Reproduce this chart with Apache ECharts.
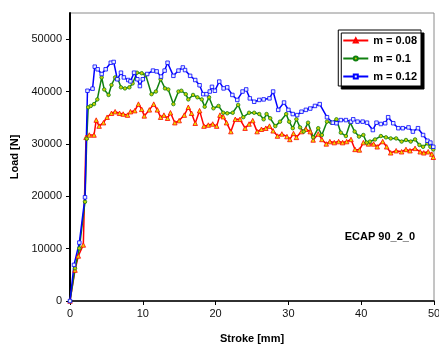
<!DOCTYPE html>
<html>
<head>
<meta charset="utf-8">
<script src="https://cdn.jsdelivr.net/npm/echarts@6/dist/echarts.min.js"></script>
<style>
html,body{margin:0;padding:0;background:#fff;}
#c{width:439px;height:345px;}
</style>
</head>
<body>
<div id="c"></div>
<script>
var seriesNames = ['m = 0.08', 'm = 0.1', 'm = 0.12'];
var xTicks = [0, 10, 20, 30, 40, 50];
var yTicks = [0, 10000, 20000, 30000, 40000, 50000];

var strokeRed = [0,0.69,1.14,1.83,2.2,2.65,3.3,3.6,4.0,4.6,5.1,5.7,6.2,6.8,7.3,7.9,8.3,8.9,9.4,9.85,10.2,10.9,11.5,12.0,12.45,12.9,13.4,13.8,14.4,15.0,15.7,16.25,16.7,17.2,17.8,18.4,19.0,19.6,20.15,20.6,21.05,21.5,22.1,22.7,23.35,24.05,24.6,25.1,25.7,26.3,26.9,27.4,27.9,28.5,29.1,29.8,30.2,30.7,31.1,31.8,32.4,33.0,33.4,34.1,34.6,35.2,35.7,36.3,36.9,37.45,38.0,38.6,39.15,39.75,40.3,41.0,41.7,42.2,42.95,43.5,44.05,44.8,45.55,46.15,46.7,47.4,48.1,48.6,49.2,49.7,49.9];
var loadRed = [0,5900,8600,10700,31250,31700,31700,34550,33400,34050,35100,35850,36150,35850,35700,35500,36150,36350,37600,36600,35350,36500,37600,36500,35100,35500,34900,35950,34050,34450,35500,37000,35850,33950,36350,33400,33600,33800,33400,35500,35200,34050,32350,34700,34700,33000,33800,34450,32350,32800,33000,33400,32500,31500,31900,31400,30850,32000,31250,32350,32800,32350,30750,31900,30850,30000,30450,30250,30450,30250,30450,30850,28950,28850,30250,30000,30000,29450,30450,29450,28300,28700,28500,28950,28700,29150,28500,28300,28500,28050,27450];

var strokeGreen = [0,0.69,1.28,2.06,2.3,2.5,2.85,3.3,3.75,4.35,4.7,5.3,5.7,6.2,6.6,7.0,7.55,8.15,8.6,9.2,9.85,10.4,11.2,11.8,12.45,13.05,13.5,14.2,14.9,15.3,15.9,16.25,16.9,17.5,18.1,18.5,19.1,19.7,20.4,21.05,21.6,22.35,23.1,23.8,24.6,25.3,26.0,26.6,27.0,27.5,28.2,28.85,29.7,30.1,30.6,31.1,31.6,32.1,32.7,33.4,34.1,34.6,35.3,35.9,36.6,37.2,37.9,38.5,39.1,39.7,40.3,40.75,41.2,41.9,42.7,43.4,44.05,44.8,45.55,46.15,46.8,47.4,48.0,48.5,49.1,49.5,49.9];
var loadGreen = [0,6250,10050,18950,31000,37000,37250,37600,38500,42700,40400,39350,41250,42700,42350,40800,40600,40800,41550,43600,43500,43150,39500,40000,42350,40600,40400,37600,40000,40150,39500,38500,39350,38900,38500,37100,38900,36800,37250,35950,35850,35950,37450,35100,35950,35950,35700,34700,35700,34900,33400,34250,35700,34250,33000,34700,33150,32350,34050,31250,33000,31700,34250,34050,34700,32150,31500,34050,32350,31400,31700,30250,30450,30850,31500,31250,31050,31050,30450,30750,30450,30850,29800,29450,30100,29450,28950];

var strokeBlue = [0,0.55,1.28,2.06,2.4,3.1,3.4,3.8,4.35,4.9,5.6,6.0,6.5,7.0,7.4,8.0,8.3,8.8,9.25,9.6,10.0,10.6,11.4,11.9,12.5,13.0,13.4,14.2,14.9,15.5,15.8,16.5,17.2,17.8,18.3,18.75,19.2,19.5,19.9,20.5,21.1,21.6,22.3,22.98,23.7,24.2,24.7,25.3,26.0,26.6,27.4,27.9,28.6,29.4,30.0,30.6,31.2,31.8,32.4,33.0,33.65,34.3,35.3,36.1,36.6,37.2,37.9,38.6,38.9,39.5,40.2,40.8,41.6,42.1,42.7,43.3,43.7,44.4,45.1,45.7,46.5,47.1,47.8,48.5,49.1,49.5,49.9];
var loadBlue = [0,6900,11150,19800,40150,40550,44750,44250,43350,44250,45500,45650,42350,43600,42700,42200,41950,43600,42350,41050,42350,43350,44000,43850,42850,44000,45500,43000,44000,44600,44100,43000,42200,41200,39500,39500,40000,40900,40150,41900,40600,40800,39350,38400,40000,40400,38700,38050,38400,38500,38700,40000,36500,37900,36500,35700,35500,36150,36500,36750,37250,37600,35100,34050,33950,34550,34550,34250,34700,34250,34250,34050,32650,34050,33800,33950,35100,33950,33000,33000,33150,32350,33000,31700,30600,30250,29450];

function zip(xs, ys) { return xs.map(function (x, i) { return [x, ys[i]]; }); }

var FONT = 'Liberation Sans, Arial, sans-serif';
var chart = echarts.init(document.getElementById('c'), null, {renderer: 'canvas'});

function mkSeries(name, xs, ys, color, symbol, fill, size) {
  return {
    name: name, type: 'line', data: zip(xs, ys),
    symbol: symbol, symbolSize: size, showSymbol: true,
    lineStyle: {color: color, width: 1.5},
    itemStyle: {color: fill, borderColor: color, borderWidth: 0.8},
    emphasis: {disabled: true},
    animation: false
  };
}

chart.setOption({
  animation: false,
  grid: {left: 70, right: 5, top: 13, bottom: 44, outerBoundsMode: 'none', containLabel: false,
    show: true, borderColor: '#8a8a8a', borderWidth: 1, backgroundColor: '#fff'},
  legend: {
    orient: 'vertical', right: 18, top: 30,
    data: seriesNames,
    backgroundColor: '#fff', borderColor: '#000', borderWidth: 1,
    shadowColor: '#000', shadowOffsetX: 3, shadowOffsetY: 3, shadowBlur: 0,
    padding: [5, 4, 4, 4], itemGap: 7, itemWidth: 25, itemHeight: 5,
    textStyle: {fontFamily: FONT, fontWeight: 'bold', fontSize: 11, color: '#000'}
  },
  xAxis: {
    type: 'value', min: 0, max: 50, interval: 10,
    name: 'Stroke [mm]', nameLocation: 'middle', nameGap: 32,
    nameTextStyle: {fontFamily: FONT, fontWeight: 'bold', fontSize: 11, color: '#000'},
    axisLine: {show: true, onZero: false, lineStyle: {color: '#000', width: 1.5}},
    axisTick: {show: true, length: 4, lineStyle: {color: '#000'}},
    axisLabel: {fontFamily: FONT, fontSize: 11, color: '#111', margin: 7,
      formatter: function (v) { return xTicks.indexOf(v) >= 0 ? String(v) : ''; }},
    splitLine: {show: false}
  },
  yAxis: {
    type: 'value', min: 0, max: 55000, interval: 10000,
    name: 'Load [N]', nameLocation: 'middle', nameGap: 50, nameRotate: 90,
    nameTextStyle: {fontFamily: FONT, fontWeight: 'bold', fontSize: 11, color: '#000'},
    axisLine: {show: true, onZero: false, lineStyle: {color: '#000', width: 2}},
    axisTick: {show: true, length: 4, lineStyle: {color: '#000'}},
    axisLabel: {fontFamily: FONT, fontSize: 11, color: '#111', margin: 8, showMaxLabel: false,
      formatter: function (v) { return yTicks.indexOf(v) >= 0 ? String(v) : ''; }},
    splitLine: {show: false}
  },
  graphic: [{
    type: 'text', right: 24, top: 231,
    style: {text: 'ECAP 90_2_0', fontFamily: FONT, fontWeight: 'bold', fontSize: 11, fill: '#000'}
  }],
  series: [
    mkSeries(seriesNames[0], strokeRed, loadRed, '#ff0000', 'triangle', '#e8e000', 4.5),
    mkSeries(seriesNames[1], strokeGreen, loadGreen, '#108010', 'circle', '#c8d000', 3.5),
    mkSeries(seriesNames[2], strokeBlue, loadBlue, '#0000ff', 'rect', '#e8f0ff', 3.5)
  ]
});
</script>
</body>
</html>
